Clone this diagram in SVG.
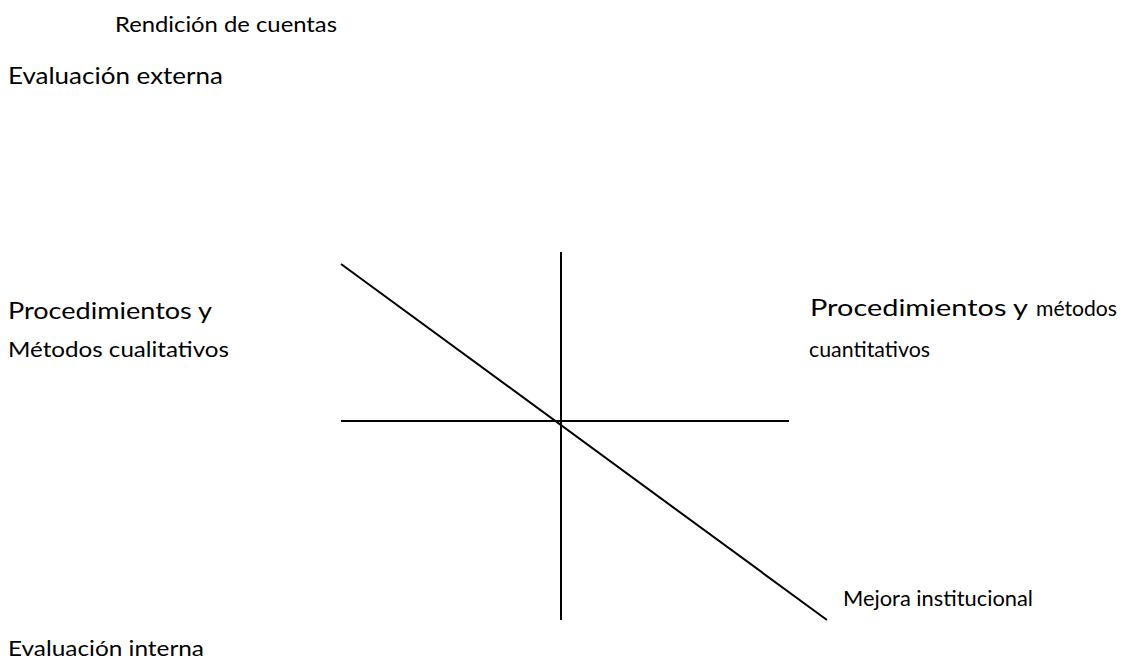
<svg xmlns="http://www.w3.org/2000/svg" width="1123" height="659" viewBox="0 0 1123 659">
<style>
.t{font-family:"Lato","Open Sans","Liberation Sans",sans-serif;fill:#000}
.b{font-size:24px}
.m{font-size:22px}
.s{font-size:21px}
.ln{stroke:#000;stroke-width:2;fill:none}
</style>
<rect width="1123" height="659" fill="#fff"/>
<g id="connectors">
<line class="ln" x1="561" y1="252" x2="561" y2="620"/>
<line class="ln" x1="341" y1="421" x2="789" y2="421"/>
<line class="ln" x1="341" y1="264" x2="827" y2="620"/>
</g>
<g id="rendicion"><text class="t s" x="115" y="32" textLength="222" lengthAdjust="spacingAndGlyphs">Rendición de cuentas</text></g>
<g id="eval-externa"><text class="t b" x="8" y="84" textLength="215" lengthAdjust="spacingAndGlyphs">Evaluación externa</text></g>
<g id="cualitativos">
<text class="t b" x="8" y="319" textLength="204" lengthAdjust="spacingAndGlyphs">Procedimientos y</text>
<text class="t s" x="8" y="357" textLength="221" lengthAdjust="spacingAndGlyphs">Métodos cualitativos</text>
</g>
<g id="cuantitativos">
<text class="t b" x="810" y="316" textLength="218" lengthAdjust="spacingAndGlyphs">Procedimientos y</text>
<text class="t s" x="1036" y="316" textLength="81" lengthAdjust="spacingAndGlyphs">métodos</text>
<text class="t s" x="809" y="357" textLength="121" lengthAdjust="spacingAndGlyphs">cuantitativos</text>
</g>
<g id="mejora"><text class="t m" x="843" y="606" textLength="190" lengthAdjust="spacingAndGlyphs">Mejora institucional</text></g>
<g id="eval-interna"><text class="t s" x="8" y="656" textLength="196" lengthAdjust="spacingAndGlyphs">Evaluación  interna</text></g>
</svg>
